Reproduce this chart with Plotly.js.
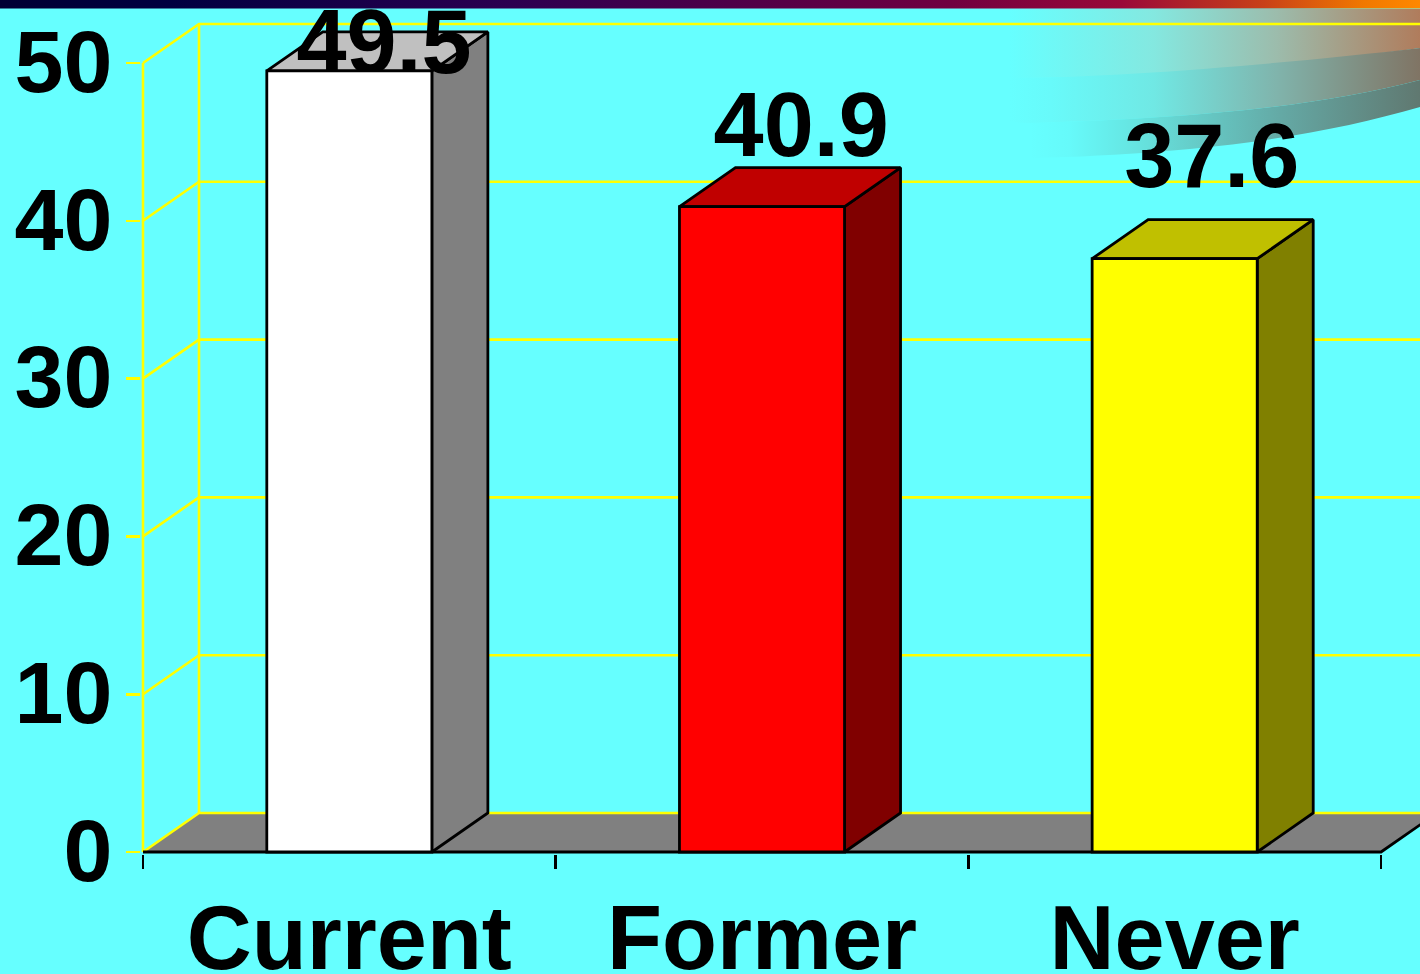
<!DOCTYPE html>
<html>
<head>
<meta charset="utf-8">
<script src="https://cdn.plot.ly/plotly-3.0.1.min.js"></script>
<style>html,body{margin:0;padding:0;background:#66FFFF;overflow:hidden}#chart{width:1420px;height:974px}</style>
</head>
<body>
<div id="chart"></div>
<script>
// ---- data ----
const categories = ["Current", "Former", "Never"];
const values = [49.5, 40.9, 37.6];
const valueLabels = ["49.5", "40.9", "37.6"];
const yTicks = [0, 10, 20, 30, 40, 50];

// ---- styling ----
const frontColors = ["#FFFFFF", "#FF0000", "#FFFF00"];
const topColors = ["#C0C0C0", "#C00000", "#C0C000"];
const sideColors = ["#808080", "#800000", "#808000"];
const labelLift = [1.3, 4.65, 5.95];
const labelShift = [0.084, 0.095, 0.09];
const FONT = "Liberation Sans, Arial, sans-serif";
const BG = "#66FFFF";
const LW = 2.8;
const GW = 2.6;

// ---- geometry of the fake 3D box (axis units) ----
const W = 1420, H = 974, mL = 141, mR = 0, mT = 9, mB = 120;
const pw = W - mL - mR, ph = H - mT - mB;
const pxPerCat = 412.67, pxPerUnit = 15.78;
const xRange = [-0.5 - 2 / pxPerCat, -0.5 - 2 / pxPerCat + pw / pxPerCat];
const yRange = [-2 / pxPerUnit, -2 / pxPerUnit + ph / pxPerUnit];
const dx = 56 / pxPerCat, dy = 39 / pxPerUnit;
const barW = 0.4;
const x0 = -0.5, x1 = 2.5, xFar = xRange[1] + 0.2;

const poly = (xs, ys, fill, line) => ({
  type: "scatter", mode: "lines", x: xs, y: ys, xaxis: "x", yaxis: "y",
  fill: "toself", fillcolor: fill, line: line ? {color: line, width: LW} : {width: 0, color: fill},
  hoverinfo: "skip", showlegend: false
});
const stroke = (xs, ys, color, w) => ({
  type: "scatter", mode: "lines", x: xs, y: ys, xaxis: "x", yaxis: "y",
  line: {color: color, width: w}, hoverinfo: "skip", showlegend: false
});

const traces = [];
// floor
traces.push(poly([x0, x0 + dx, x1 + dx, x1], [0, dy, dy, 0], "#808080"));
// back wall gridlines, one per y tick
yTicks.forEach(t => traces.push(stroke([x0, x0 + dx, xFar], [t, t + dy, t + dy], "#FFFF00", GW)));
// y axis line and back corner
traces.push(stroke([x0, x0], [0, yTicks[yTicks.length - 1]], "#FFFF00", GW));
traces.push(stroke([x0 + dx, x0 + dx], [dy, yTicks[yTicks.length - 1] + dy], "#FFFF00", GW));
// base line and floor front-right edge
traces.push(stroke([x0, x1, x1 + dx], [0, 0, dy], "#000000", LW));
// side and top faces of the bars
values.forEach((v, i) => {
  const l = i - barW / 2, r = i + barW / 2;
  traces.push(poly([r, r + dx, r + dx, r, r], [0, dy, v + dy, v, 0], sideColors[i], "#000000"));
  traces.push(poly([l, l + dx, r + dx, r, l], [v, v + dy, v + dy, v, v], topColors[i], "#000000"));
});
// front faces
traces.push({
  type: "bar", x: categories, y: values, width: values.map(() => barW), xaxis: "x2", yaxis: "y",
  marker: {color: frontColors, line: {color: "#000000", width: LW}},
  hoverinfo: "x+y", showlegend: false
});
// value labels
traces.push({
  type: "scatter", mode: "text", xaxis: "x", yaxis: "y",
  x: values.map((v, i) => i + labelShift[i]),
  y: values.map((v, i) => v + labelLift[i]),
  text: valueLabels, textposition: "middle center",
  textfont: {family: FONT, size: 90, color: "#000000", weight: 700},
  hoverinfo: "skip", showlegend: false
});

// decorative header strip and swoosh
const deco = `<svg xmlns="http://www.w3.org/2000/svg" width="${W}" height="${H}" viewBox="0 0 ${W} ${H}">
<defs>
<linearGradient id="s" gradientUnits="userSpaceOnUse" x1="0" y1="0" x2="${W}" y2="0">
<stop offset="0" stop-color="#000033"/><stop offset="0.12" stop-color="#000040"/><stop offset="0.36" stop-color="#2C0050"/>
<stop offset="0.67" stop-color="#700040"/><stop offset="0.79" stop-color="#9A0838"/><stop offset="0.89" stop-color="#C84018"/><stop offset="0.96" stop-color="#F07800"/><stop offset="1" stop-color="#FF8800"/>
</linearGradient>
<linearGradient id="a" gradientUnits="userSpaceOnUse" x1="1010" y1="0" x2="1420" y2="0">
<stop offset="0" stop-color="#66FFFF"/><stop offset="0.35" stop-color="#84E8E0"/><stop offset="0.65" stop-color="#9CBCAC"/><stop offset="1" stop-color="#B07C5C"/>
</linearGradient>
<linearGradient id="b" gradientUnits="userSpaceOnUse" x1="1010" y1="0" x2="1420" y2="0">
<stop offset="0" stop-color="#66FFFF"/><stop offset="0.1" stop-color="#68FAFA"/><stop offset="0.35" stop-color="#70E8E4"/><stop offset="0.65" stop-color="#80B4AC"/><stop offset="1" stop-color="#807464"/>
</linearGradient>
<linearGradient id="c" gradientUnits="userSpaceOnUse" x1="1030" y1="0" x2="1420" y2="0">
<stop offset="0" stop-color="#66FFFF"/><stop offset="0.1" stop-color="#66FAFA"/><stop offset="0.3" stop-color="#66E0DC"/><stop offset="0.65" stop-color="#64A8A4"/><stop offset="1" stop-color="#607870"/>
</linearGradient>
</defs>
<path fill="url(#a)" d="M1010 9H1420V48C1320 62 1200 74 1100 77L1010 78Z"/>
<path fill="url(#b)" d="M1010 78C1120 78 1300 62 1420 48V80C1320 106 1200 118 1030 123L1010 122Z"/>
<path fill="url(#c)" d="M1030 123C1200 118 1320 106 1420 80V107C1320 136 1200 154 1030 158Z"/>
<rect x="0" y="0" width="${W}" height="8.5" fill="url(#s)"/>
</svg>`;

const layout = {
  width: W, height: H,
  margin: {l: mL, r: mR, t: mT, b: mB, pad: 0},
  paper_bgcolor: BG, plot_bgcolor: "rgba(0,0,0,0)",
  showlegend: false, barmode: "overlay",
  font: {family: FONT, color: "#000000"},
  xaxis: {type: "linear", range: xRange, visible: false, fixedrange: true},
  xaxis2: {
    type: "category", overlaying: "x", anchor: "y", side: "bottom", range: xRange,
    categoryorder: "array", categoryarray: categories,
    tickson: "boundaries", ticks: "outside", ticklen: 14, tickwidth: 2.8, tickcolor: "#000000",
    ticklabelstandoff: 24,
    tickfont: {family: FONT, size: 90, color: "#000000", weight: 700},
    showgrid: false, zeroline: false, showline: false, automargin: false, fixedrange: true
  },
  yaxis: {
    range: yRange, tickmode: "array", tickvals: yTicks, ticktext: yTicks.map(String),
    ticks: "outside", ticklen: 14, tickwidth: 2.6, tickcolor: "#FFFF00",
    ticklabelstandoff: -4, ticklabelshift: -2,
    tickfont: {family: FONT, size: 88, color: "#000000", weight: 700},
    showgrid: false, zeroline: false, showline: false, automargin: false, fixedrange: true
  },
  images: [{
    source: "data:image/svg+xml;charset=utf-8," + encodeURIComponent(deco),
    xref: "paper", yref: "paper", x: -mL / pw, y: 1 + mT / ph,
    sizex: W / pw, sizey: H / ph, xanchor: "left", yanchor: "top",
    sizing: "stretch", layer: "below"
  }]
};

Plotly.newPlot("chart", traces, layout, {displayModeBar: false, staticPlot: true});
</script>
</body>
</html>
